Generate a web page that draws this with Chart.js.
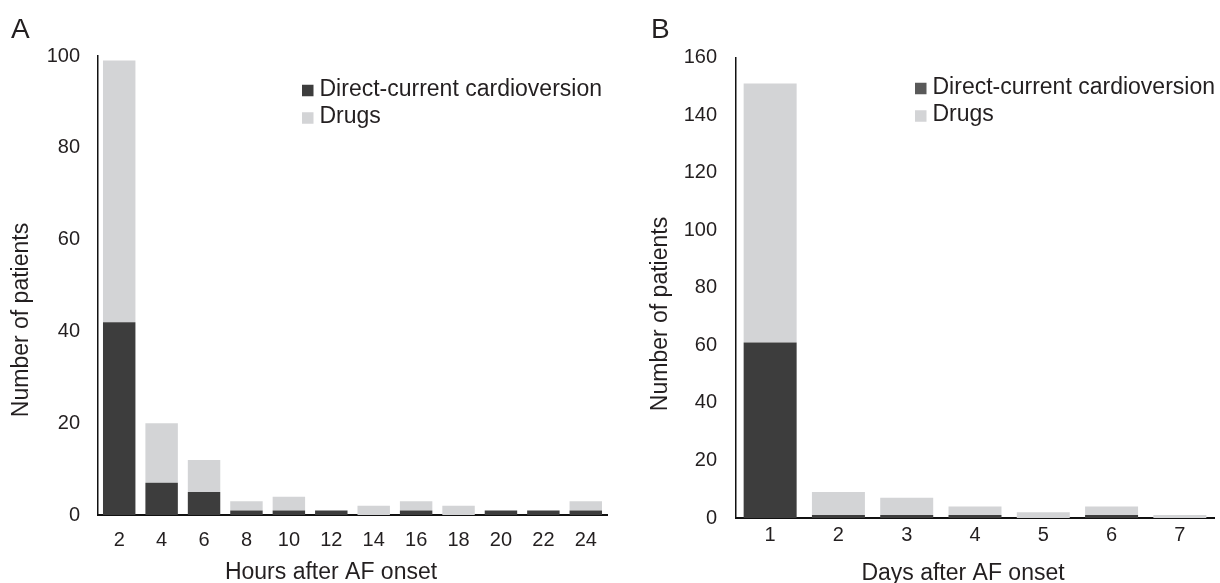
<!DOCTYPE html>
<html>
<head>
<meta charset="utf-8">
<script src="https://cdn.jsdelivr.net/npm/chart.js@4.4.1/dist/chart.umd.min.js"></script>
<style>
html, body { margin: 0; padding: 0; background: #fff; width: 1220px; height: 583px; overflow: hidden; }
canvas { position: absolute; top: 0; }
#cA { left: 0; }
#cB { left: 615px; }
</style>
</head>
<body>
<canvas id="cA" width="615" height="583"></canvas>
<canvas id="cB" width="605" height="583"></canvas>
<script>
// ---- Data ----
const seriesNames = ['Direct-current cardioversion', 'Drugs'];

const hoursLabels = ['2', '4', '6', '8', '10', '12', '14', '16', '18', '20', '22', '24'];
const hoursDC     = [42, 7, 5, 1, 1, 1, 0, 1, 0, 1, 1, 1];
const hoursDrugs  = [57, 13, 7, 2, 3, 0, 2, 2, 2, 0, 0, 2];

const daysLabels = ['1', '2', '3', '4', '5', '6', '7'];
const daysDC     = [61, 1, 1, 1, 0, 1, 0];
const daysDrugs  = [90, 8, 6, 3, 2, 3, 1];

const yTitle = 'Number of patients';
const xTitleA = 'Hours after AF onset';
const xTitleB = 'Days after AF onset';
const panelA = 'A';
const panelB = 'B';
const yMaxA = 100, yStepA = 20;
const yMaxB = 160, yStepB = 20;

// ---- Styles ----
const FONT = '"Liberation Sans", Arial, Helvetica, sans-serif';
const TEXT = '#231f20';
const DARK = '#3d3d3d';
const LIGHT = '#d3d4d6';

Chart.defaults.font.family = FONT;
Chart.defaults.color = TEXT;

const decor = {
  id: 'decor',
  afterDraw(chart, args, o) {
    const ctx = chart.ctx;
    ctx.save();
    ctx.fillStyle = TEXT;
    ctx.textAlign = 'left';
    ctx.textBaseline = 'alphabetic';
    ctx.font = '28px ' + FONT;
    ctx.fillText(o.letter, o.letterX, o.letterY);

    ctx.font = '23px ' + FONT;
    ctx.textBaseline = 'middle';
    chart.data.datasets.forEach((ds, i) => {
      const y = o.legendY + i * o.legendGap;
      ctx.fillStyle = o.legendColors[i];
      ctx.fillRect(o.legendX, y + 1 - o.box / 2, o.box, o.box);
      ctx.fillStyle = TEXT;
      ctx.fillText(ds.label, o.legendX + o.box + 6, y);
    });

    ctx.textAlign = 'center';
    ctx.fillText(o.xTitle, o.xTitleX, o.xTitleY);

    ctx.translate(o.yTitleX, o.yTitleY);
    ctx.rotate(-Math.PI / 2);
    ctx.fillText(o.yTitle, 0, 0);
    ctx.restore();
  }
};

function makeChart(id, labels, dc, drugs, cfg) {
  return new Chart(document.getElementById(id), {
    type: 'bar',
    data: {
      labels: labels,
      datasets: [
        { label: seriesNames[0], data: dc, backgroundColor: DARK, borderWidth: 0,
          categoryPercentage: 1, barPercentage: cfg.barPct },
        { label: seriesNames[1], data: drugs, backgroundColor: LIGHT, borderWidth: 0,
          categoryPercentage: 1, barPercentage: cfg.barPct }
      ]
    },
    options: {
      responsive: false,
      animation: false,
      devicePixelRatio: 1,
      layout: { padding: { left: 0, right: cfg.padRight, top: cfg.padTop, bottom: 0 } },
      plugins: {
        legend: { display: false },
        tooltip: { enabled: false },
        decor: cfg.decor
      },
      scales: {
        x: {
          stacked: true,
          grid: { display: false, drawTicks: false },
          border: { display: true, color: '#111', width: 2 },
          ticks: { autoSkip: false, maxRotation: 0, padding: cfg.xTickPad, color: TEXT, font: { size: 20 } },
          afterFit(s) { s.height = cfg.xHeight; }
        },
        y: {
          stacked: true,
          min: 0,
          max: cfg.yMax,
          grid: { display: false, drawTicks: false },
          border: { display: true, color: '#111', width: 1.5 },
          ticks: { stepSize: cfg.yStep, padding: cfg.yTickPad, color: TEXT, font: { size: 20 } },
          afterFit(s) { s.width = cfg.yWidth; }
        }
      }
    },
    plugins: [decor]
  });
}

makeChart('cA', hoursLabels, hoursDC, hoursDrugs, {
  barPct: 0.765, padRight: 8, padTop: 56, xHeight: 68, xTickPad: 13, yWidth: 98, yTickPad: 18,
  yMax: yMaxA, yStep: yStepA,
  decor: {
    letter: panelA, letterX: 11, letterY: 38,
    legendX: 302, legendY: 89.5, legendGap: 27.5, box: 11.5, legendColors: [DARK, LIGHT],
    xTitle: xTitleA, xTitleX: 331, xTitleY: 573,
    yTitle: yTitle, yTitleX: 22, yTitleY: 320
  }
});

makeChart('cB', daysLabels, daysDC, daysDrugs, {
  barPct: 0.776, padRight: 6, padTop: 57.5, xHeight: 65, xTickPad: 5, yWidth: 121, yTickPad: 19,
  yMax: yMaxB, yStep: yStepB,
  decor: {
    letter: panelB, letterX: 36, letterY: 38,
    legendX: 300, legendY: 87.5, legendGap: 27.5, box: 11.5, legendColors: ['#595959', LIGHT],
    xTitle: xTitleB, xTitleX: 348, xTitleY: 574,
    yTitle: yTitle, yTitleX: 46, yTitleY: 314
  }
});
</script>
</body>
</html>
